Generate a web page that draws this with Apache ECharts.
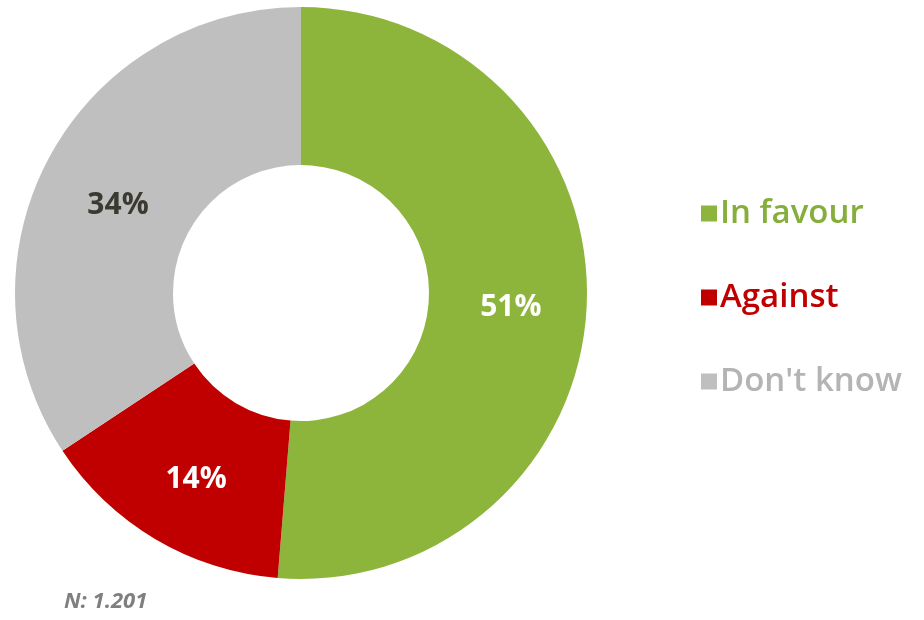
<!DOCTYPE html>
<html>
<head>
<meta charset="utf-8">
<script src="https://cdn.jsdelivr.net/npm/echarts@6/dist/echarts.min.js"></script>
<style>
html,body{margin:0;padding:0;background:#fff;}
#main{width:924px;height:620px;}
</style>
</head>
<body>
<div id="main"></div>
<script>
const categories = ['In favour', 'Against', "Don't know"];
const values = [51.3, 14.4, 34.3];
const colors = ['#8db53c', '#c00000', '#bfbfbf'];
const legendTextColors = ['#86ae3c', '#c00000', '#b4b4b4'];
const labelColors = ['#ffffff', '#ffffff', '#3a3a32'];
const note = 'N: 1.201';

const labelOffsets = [[0, 6], [2, 6], [2, 12]];

const chart = echarts.init(document.getElementById('main'), null, {renderer: 'canvas'});
const data = categories.map((c, i) => ({
  name: c,
  value: values[i],
  itemStyle: {color: colors[i]},
  label: {color: labelColors[i], offset: labelOffsets[i]}
}));

chart.setOption({
  backgroundColor: '#ffffff',
  animation: false,
  legend: {
    orient: 'vertical',
    left: 696,
    top: 192,
    itemWidth: 16,
    itemHeight: 16,
    itemGap: 51,
    icon: 'rect',
    data: categories.map((c, i) => ({name: c, textStyle: {color: legendTextColors[i]}})),
    textStyle: {
      fontFamily: 'Open Sans',
      fontSize: 33,
      fontWeight: 600,
      padding: [0, 0, 0, -2]
    }
  },
  series: [{
    type: 'pie',
    center: [301, 293],
    radius: [128, 286],
    startAngle: 90,
    clockwise: true,
    avoidLabelOverlap: false,
    label: {
      show: true,
      position: 'inside',
      fontFamily: 'Open Sans',
      fontSize: 30,
      fontWeight: 'bold',
      formatter: function (p) { return Math.round(p.value) + '%'; }
    },
    labelLine: {show: false},
    itemStyle: {borderWidth: 0},
    emphasis: {disabled: true},
    data: data
  }],
  graphic: [{
    type: 'text',
    left: 64,
    top: 591,
    style: {
      text: note,
      fontFamily: 'Open Sans',
      fontSize: 22,
      fontStyle: 'italic',
      fontWeight: 'bold',
      fill: '#7f7f7f'
    }
  }]
});
</script>
</body>
</html>
